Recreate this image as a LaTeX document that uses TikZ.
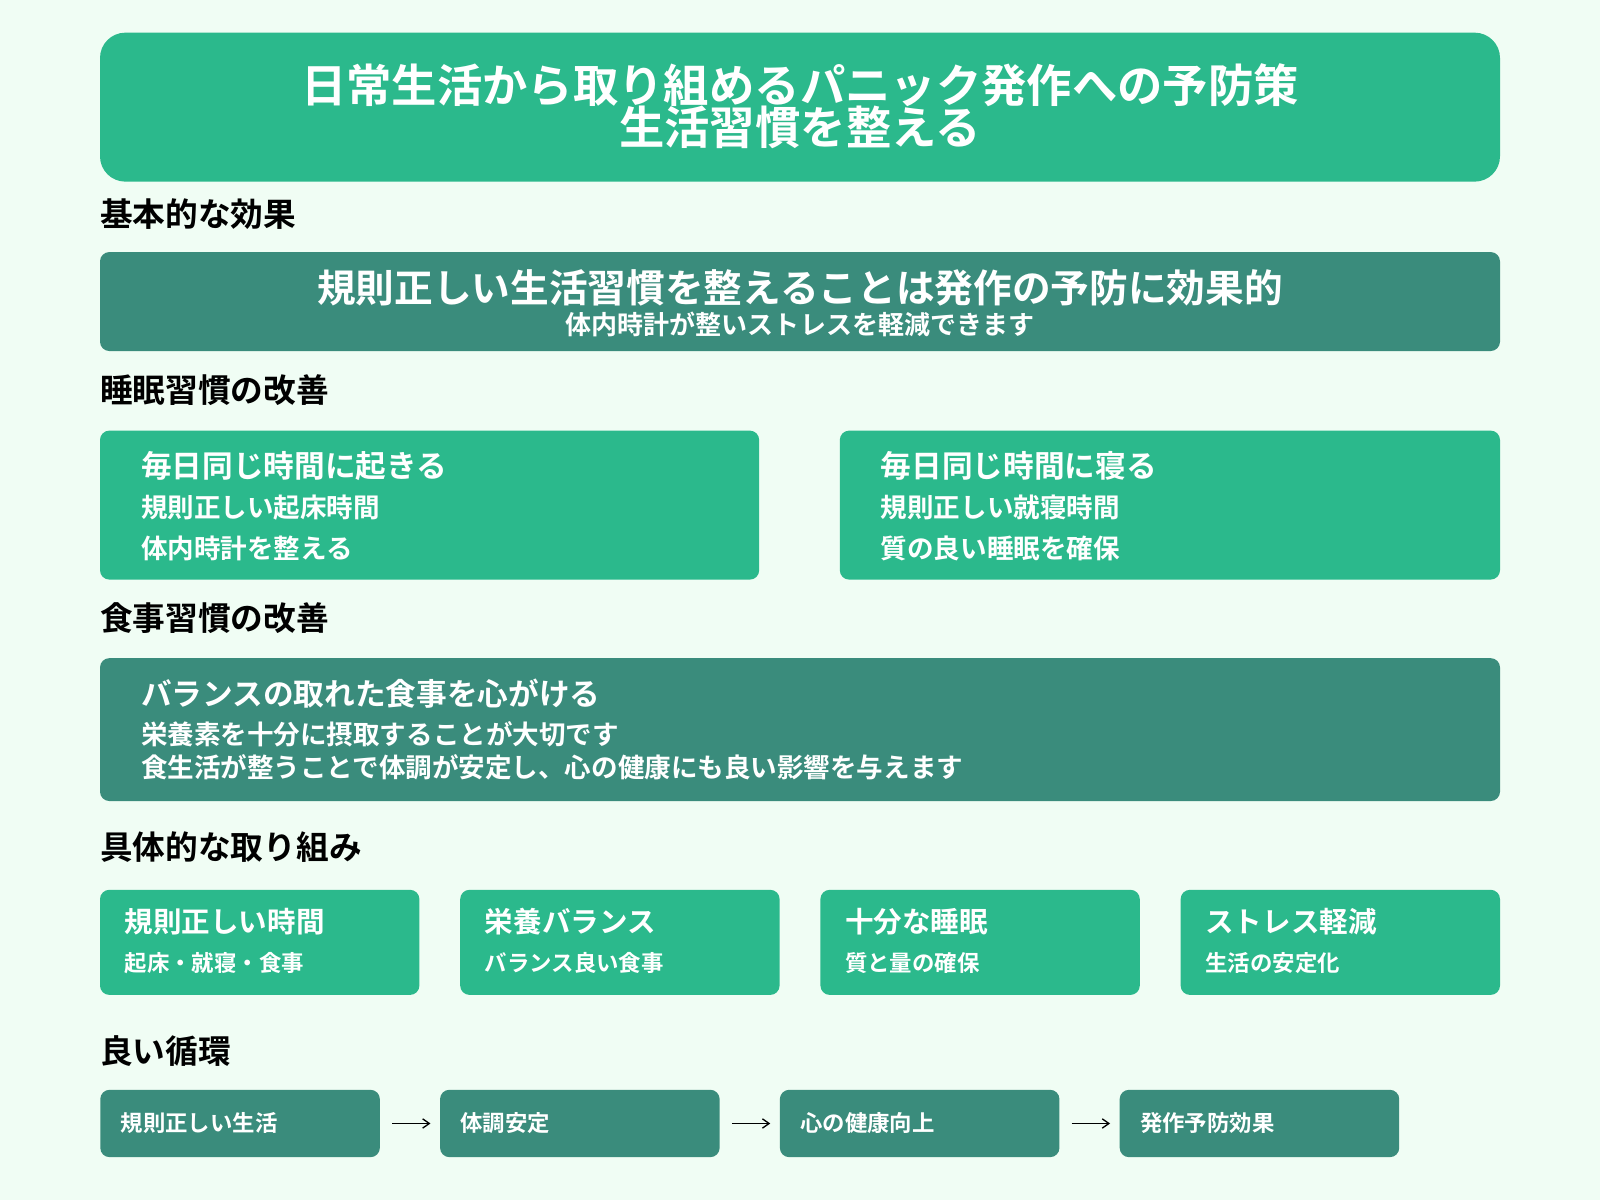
\documentclass[tikz,border=0pt]{standalone}
\usepackage{fontspec}
\setmainfont{Noto Sans CJK JP}[BoldFont={* Bold}]
\usetikzlibrary{arrows.meta}
\definecolor{bg}{HTML}{F0FDF4}
\definecolor{gr}{HTML}{2BB98C}
\definecolor{dk}{HTML}{3A8C7C}
\newcommand{\fsz}[1]{\fontsize{#1}{#1}\selectfont}
\tikzset{
 gbox/.style={fill=gr,rounded corners=7pt},
 dbox/.style={fill=dk,rounded corners=7pt},
 head/.style={anchor=west,inner sep=0pt,font=\bfseries\fsz{24.5pt},text=black},
 wt/.style={anchor=west,inner sep=0pt,text=white,font=\bfseries#1},
 flow/.style={dbox,minimum width=209.6pt,minimum height=50.5pt,anchor=west,inner sep=0pt},
 conn/.style={-{Straight Barb[length=5pt,width=7pt]},line width=1pt,black,shorten <=9pt,shorten >=7pt},
}
\begin{document}
\begin{tikzpicture}[x=0.765pt,y=-0.765pt]
\useasboundingbox[fill=bg] (0,0) rectangle (1568,1176);
\fill[gr,rounded corners=19pt] (98,32) rectangle (1470,178);
\node[text=white,font=\bfseries\fsz{34pt},align=center,inner sep=0pt] (title) at (784,104) {日常生活から取り組めるパニック発作への予防策\\[-2pt]生活習慣を整える};

\node[head] (h1) at (98,210) {基本的な効果};
\fill[dk,rounded corners=7pt] (98,247) rectangle (1470,344);
\node[text=white,font=\bfseries\fsz{29pt},inner sep=0pt] (b1a) at (784,282) {規則正しい生活習慣を整えることは発作の予防に効果的};
\node[text=white,font=\bfseries\fsz{19.5pt},inner sep=0pt] (b1b) at (784,318) {体内時計が整いストレスを軽減できます};

\node[head] (h2) at (98,382) {睡眠習慣の改善};
\fill[gr,rounded corners=7pt] (98,422) rectangle (744,568);
\fill[gr,rounded corners=7pt] (823,422) rectangle (1470,568);
\node[wt=\fsz{23pt}] (s1) at (138,457) {毎日同じ時間に起きる};
\node[wt=\fsz{19.9pt}] (s1b) at (138,497) {規則正しい起床時間};
\node[wt=\fsz{19.9pt}] (s1c) at (138,537) {体内時計を整える};
\node[wt=\fsz{23pt}] (s2) at (863,457) {毎日同じ時間に寝る};
\node[wt=\fsz{19.9pt}] (s2b) at (863,497) {規則正しい就寝時間};
\node[wt=\fsz{19.9pt}] (s2c) at (863,537) {質の良い睡眠を確保};

\node[head] (h3) at (98,606) {食事習慣の改善};
\fill[dk,rounded corners=7pt] (98,645) rectangle (1470,785);
\node[wt=\fsz{23pt}] (f1) at (138,680) {バランスの取れた食事を心がける};
\node[wt=\fsz{19.9pt}] (f2) at (138,720) {栄養素を十分に摂取することが大切です};
\node[wt=\fsz{19.9pt}] (f3) at (138,752) {食生活が整うことで体調が安定し、心の健康にも良い影響を与えます};

\node[head] (h4) at (98,830) {具体的な取り組み};
\foreach \x/\a/\b [count=\i] in {98/規則正しい時間/起床・就寝・食事,451/栄養バランス/バランス良い食事,804/十分な睡眠/質と量の確保,1157/ストレス軽減/生活の安定化}{
 \fill[gr,rounded corners=7pt] (\x,872) rectangle ++(313,103);
 \node[wt=\fsz{21.4pt}] (k\i) at (\x+24,903) {\a};
 \node[wt=\fsz{16.8pt}] (k\i b) at (\x+24,944) {\b};
}

\node[head] (h5) at (98,1030) {良い循環};
\foreach \x/\t [count=\i] in {98/規則正しい生活,431/体調安定,764/心の健康向上,1097/発作予防効果}{
 \node[flow] (c\i) at (\x,1101) {};
 \node[wt=\fsz{16.8pt}] (c\i t) at (\x+20,1101) {\t};
}
\draw[conn] (c1.east) -- (c2.west);
\draw[conn] (c2.east) -- (c3.west);
\draw[conn] (c3.east) -- (c4.west);
\end{tikzpicture}
\end{document}
